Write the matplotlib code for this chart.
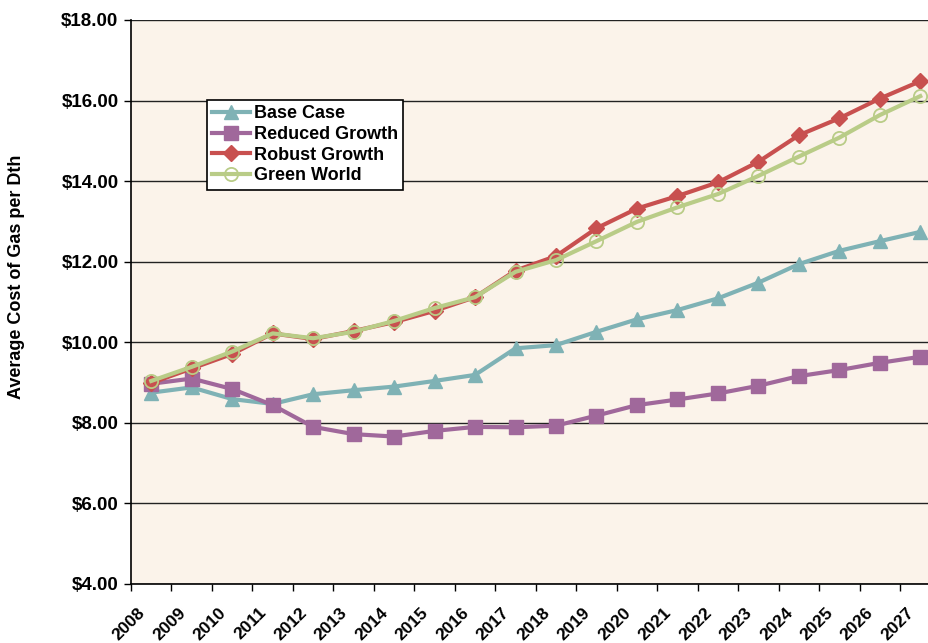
import numpy as np
import matplotlib.pyplot as plt
from matplotlib.transforms import ScaledTranslation

plt.rcParams['font.family'] = ['Liberation Sans', 'DejaVu Sans']
plt.rcParams['font.weight'] = 'bold'

years = [str(y) for y in range(2008, 2028)]

# average cost of gas per Dth ($)
base_case = [8.75, 8.88, 8.59, 8.47, 8.71, 8.81, 8.90, 9.04, 9.19, 9.85,
             9.93, 10.26, 10.57, 10.80, 11.09, 11.48, 11.94, 12.27, 12.51, 12.74]
reduced_growth = [8.97, 9.10, 8.84, 8.44, 7.90, 7.72, 7.66, 7.80, 7.90, 7.89,
                  7.93, 8.18, 8.44, 8.58, 8.73, 8.92, 9.16, 9.31, 9.49, 9.64]
robust_growth = [8.99, 9.35, 9.71, 10.22, 10.08, 10.28, 10.50, 10.78, 11.12, 11.78,
                 12.14, 12.83, 13.32, 13.63, 13.97, 14.48, 15.14, 15.56, 16.05, 16.48]
green_world = [9.04, 9.39, 9.77, 10.22, 10.10, 10.26, 10.53, 10.85, 11.12, 11.75,
               12.04, 12.51, 12.99, 13.35, 13.68, 14.13, 14.61, 15.08, 15.64, 16.11]

y_ticks = [4, 6, 8, 10, 12, 14, 16, 18]

bg = '#FBF3EA'
c_base = '#7FB2B5'
c_reduced = '#A0689B'
c_robust = '#C8504F'
c_green = '#B9CC87'

W, H = 929, 643
fig = plt.figure(figsize=(W / 100, H / 100), dpi=100)
# right edge of the plot runs past the picture, like the reference crop
ax = fig.add_axes([131 / W, (H - 584) / H, (940.5 - 131) / W, 564 / H])
ax.set_facecolor(bg)

x = np.arange(len(years))
ax.plot(x, base_case, color=c_base, lw=3, marker='^', ms=9.5, label='Base Case', zorder=3)
ax.plot(x, reduced_growth, color=c_reduced, lw=3, marker='s', ms=9.5, label='Reduced Growth', zorder=3)
ax.plot(x, robust_growth, color=c_robust, lw=3, marker='D', ms=8.5, label='Robust Growth', zorder=3)
ax.plot(x, green_world, color=c_green, lw=3, marker='o', ms=9.5, mfc='none', mew=1.3,
        label='Green World', zorder=3)

ax.set_xlim(-0.5, len(years) - 0.5)
ax.set_ylim(4, 18)
ax.set_yticks(y_ticks)
ax.set_yticklabels(['$%.2f' % v for v in y_ticks], fontsize=13.5, fontweight='bold')
ax.yaxis.grid(True, color='#222222', lw=1)
ax.set_axisbelow(True)

# labels at category centres, tick marks on the boundaries
ax.set_xticks(x)
ax.set_xticklabels(years, rotation=45, ha='right', va='top', rotation_mode='anchor',
                   fontsize=12.5, fontweight='bold')
ax.set_xticks(np.arange(-0.5, len(years), 1), minor=True)
ax.tick_params(axis='x', which='major', length=0, pad=15)
ax.tick_params(axis='x', which='minor', length=5, width=1, direction='out')
ax.tick_params(axis='y', length=5, width=1, direction='out', pad=4)
shift = ScaledTranslation(-0.14, 0, fig.dpi_scale_trans)
for lab in ax.get_xticklabels():
    lab.set_transform(lab.get_transform() + shift)

for s in ['top', 'right']:
    ax.spines[s].set_visible(False)
ax.spines['left'].set_color('black')
ax.spines['bottom'].set_color('black')
ax.spines['left'].set_linewidth(1.2)
ax.spines['bottom'].set_linewidth(1.2)

fig.text(17 / W, 1 - 277 / H, 'Average Cost of Gas per Dth', rotation=90,
         ha='center', va='center', fontsize=13, fontweight='bold')

leg = ax.legend(loc='upper left', bbox_to_anchor=(207 / W, 1 - 100 / H),
                bbox_transform=fig.transFigure, borderaxespad=0, fancybox=False,
                framealpha=1, edgecolor='black', facecolor='white',
                prop={'size': 13, 'weight': 'bold'}, handlelength=2.1,
                handletextpad=0.2, labelspacing=0.2, borderpad=0.3)
leg.get_frame().set_linewidth(1.2)

fig.savefig('out.png', dpi=100)
